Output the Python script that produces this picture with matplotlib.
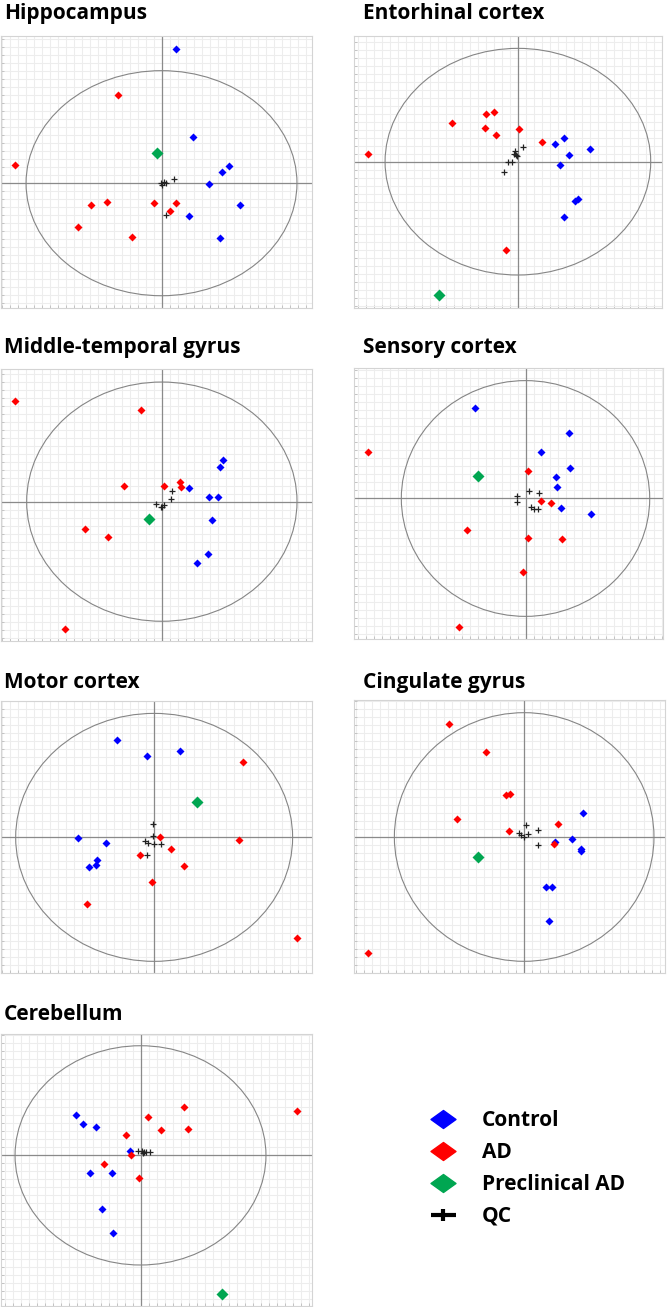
import matplotlib
matplotlib.use("Agg")
import matplotlib.pyplot as plt
from matplotlib.patches import Ellipse
from matplotlib.path import Path
from matplotlib.lines import Line2D
import numpy as np

# scores, scaled so that the Hotelling ellipse has radius 1 on both axes
hippo_control = [(0.106, 1.192), (0.234, 0.414), (0.498, 0.154), (0.443, 0.101),
                 (0.350, -0.003), (0.579, -0.195), (0.202, -0.290), (0.429, -0.485)]
hippo_ad = [(-0.323, 0.781), (-1.079, 0.166), (-0.406, -0.163), (-0.520, -0.192),
            (-0.057, -0.172), (0.108, -0.180), (0.059, -0.249), (-0.613, -0.385),
            (-0.219, -0.482)]
hippo_pre = [(-0.032, 0.266)]
hippo_qc = [(-0.005, 0.006), (0.015, 0.015), (0.030, 0.006), (0.089, 0.041),
            (0.005, -0.018), (0.034, -0.284)]

ento_control = [(0.344, 0.213), (0.281, 0.154), (0.384, 0.063), (0.545, 0.110),
                (0.314, -0.025), (0.427, -0.344), (0.450, -0.333), (0.347, -0.492)]
ento_ad = [(-1.126, 0.072), (-0.495, 0.342), (-0.241, 0.424), (-0.178, 0.439),
           (-0.246, 0.298), (-0.168, 0.233), (0.008, 0.292), (0.181, 0.178),
           (-0.088, -0.780)]
ento_pre = [(-0.593, -1.176)]
ento_qc = [(-0.020, 0.090), (0.038, 0.128), (-0.030, 0.069), (-0.008, 0.046),
           (-0.045, -0.001), (-0.073, -0.001), (-0.103, -0.090), (-0.015, 0.057)]

mtg_control = [(0.454, 0.352), (0.430, 0.288), (0.200, 0.112), (0.346, 0.036),
               (0.417, 0.036), (0.368, -0.156), (0.338, -0.441), (0.257, -0.514)]
mtg_ad = [(-1.084, 0.844), (-0.151, 0.768), (-0.277, 0.128), (0.015, 0.131),
          (0.136, 0.168), (0.143, 0.120), (-0.568, -0.229), (-0.400, -0.293),
          (-0.714, -1.061)]
mtg_pre = [(-0.096, -0.148)]
mtg_qc = [(0.072, 0.087), (0.067, 0.020), (-0.042, -0.017), (0.017, -0.025),
          (0.002, -0.042), (-0.007, -0.047)]

sens_control = [(-0.405, 0.768), (0.349, 0.556), (0.121, 0.397), (0.359, 0.262),
                (0.247, 0.180), (0.257, 0.098), (0.287, -0.083), (0.528, -0.132)]
sens_ad = [(-1.265, 0.397), (0.016, 0.233), (0.126, -0.024), (0.209, -0.035),
           (-0.475, -0.264), (0.024, -0.338), (0.290, -0.341), (-0.021, -0.621),
           (-0.534, -1.093)]
sens_pre = [(-0.381, 0.188)]
sens_qc = [(-0.070, 0.024), (-0.070, -0.027), (0.029, 0.066), (0.110, 0.050),
           (0.046, -0.075), (0.072, -0.089), (0.097, -0.089)]

motor_control = [(-0.270, 0.785), (-0.055, 0.655), (0.190, 0.699), (-0.547, -0.004),
                 (-0.349, -0.042), (-0.414, -0.179), (-0.419, -0.222), (-0.470, -0.241)]
motor_ad = [(0.639, 0.610), (0.039, 0.007), (0.610, -0.023), (0.123, -0.093),
            (-0.099, -0.144), (0.214, -0.227), (-0.012, -0.359), (-0.484, -0.534),
            (1.029, -0.812)]
motor_pre = [(0.306, 0.289)]
motor_qc = [(-0.007, 0.104), (-0.007, 0.015), (-0.063, -0.028), (-0.041, -0.042),
            (0.002, -0.055), (0.053, -0.052), (-0.051, -0.139)]

cing_control = [(0.453, 0.197), (0.371, -0.020), (0.240, -0.039), (0.438, -0.100),
                (0.440, -0.111), (0.171, -0.405), (0.217, -0.405), (0.194, -0.673)]
cing_ad = [(-0.576, 0.912), (-0.291, 0.681), (-0.140, 0.341), (-0.109, 0.344),
           (-0.520, 0.143), (0.261, 0.103), (-0.119, 0.052), (0.230, -0.060),
           (-1.200, -0.933)]
cing_pre = [(-0.358, -0.157)]
cing_qc = [(0.014, 0.095), (0.109, 0.055), (0.027, 0.028), (-0.042, 0.033),
           (-0.027, 0.017), (-0.004, -0.004), (0.109, -0.063)]

cereb_control = [(-0.511, 0.364), (-0.460, 0.284), (-0.351, 0.263), (-0.080, 0.041),
                 (-0.402, -0.157), (-0.226, -0.157), (-0.306, -0.485), (-0.221, -0.705)]
cereb_ad = [(0.346, 0.437), (1.245, 0.409), (0.061, 0.346), (0.165, 0.233),
            (0.380, 0.236), (-0.117, 0.187), (-0.072, 0.002), (-0.290, -0.075),
            (-0.013, -0.202)]
cereb_pre = [(0.646, -1.265)]
cereb_qc = [(-0.019, 0.038), (0.008, 0.044), (0.024, 0.029), (0.043, 0.035),
            (0.072, 0.032), (0.019, 0.020)]

regions = ["Hippocampus", "Entorhinal cortex", "Middle-temporal gyrus", "Sensory cortex",
           "Motor cortex", "Cingulate gyrus", "Cerebellum"]
groups = ["Control", "AD", "Preclinical AD", "QC"]
region_data = [
    (hippo_control, hippo_ad, hippo_pre, hippo_qc),
    (ento_control, ento_ad, ento_pre, ento_qc),
    (mtg_control, mtg_ad, mtg_pre, mtg_qc),
    (sens_control, sens_ad, sens_pre, sens_qc),
    (motor_control, motor_ad, motor_pre, motor_qc),
    (cing_control, cing_ad, cing_pre, cing_qc),
    (cereb_control, cereb_ad, cereb_pre, cereb_qc),
]

# layout (pixel boxes: left, top, right, bottom) and visible ranges
W, H = 669, 1307
boxes = [(1, 36, 312, 308), (354, 36, 662, 308),
         (1, 369, 312, 641), (354, 368, 663, 639),
         (1, 701, 312, 973), (354, 700, 665, 973),
         (1, 1034, 312, 1306)]
limits = [((-1.185, 1.111), (-1.109, 1.308)),
          ((-1.234, 1.085), (-1.291, 1.109)),
          ((-1.190, 1.111), (-1.165, 1.109)),
          ((-1.381, 1.107), (-1.192, 1.107)),
          ((-1.106, 1.140), (-1.094, 1.100)),
          ((-1.311, 1.085), (-1.094, 1.102)),
          ((-1.112, 1.367), (-1.374, 1.107))]
title_pos = [(4, 19), (363, 19), (4, 353), (363, 353), (4, 688), (363, 688), (4, 1020)]

colors = ["#0000ff", "#ff0000", "#00a651", "#222222"]
font = ["Open Sans", "DejaVu Sans"]

# wide diamond and flat plus for the legend
wide_diamond = Path([(-1, 0), (0, 0.72), (1, 0), (0, -0.72), (-1, 0)],
                    [Path.MOVETO, Path.LINETO, Path.LINETO, Path.LINETO, Path.CLOSEPOLY])
flat_plus = Path([(-1, 0), (1, 0), (0, -0.5), (0, 0.5)],
                 [Path.MOVETO, Path.LINETO, Path.MOVETO, Path.LINETO])

fig = plt.figure(figsize=(W / 100, H / 100), dpi=100)

for name, data, box, (xl, yl), tp in zip(regions, region_data, boxes, limits, title_pos):
    l, t, r, b = box
    ax = fig.add_axes([l / W, 1 - b / H, (r - l) / W, (b - t) / H])
    ax.set_xlim(xl)
    ax.set_ylim(yl)

    # fine background grid, ~8 px cells
    step_x = (xl[1] - xl[0]) * 8 / (r - l)
    step_y = (yl[1] - yl[0]) * 8 / (b - t)
    ax.set_xticks(np.concatenate([-np.arange(0, -xl[0], step_x)[::-1], np.arange(step_x, xl[1], step_x)]))
    ax.set_yticks(np.concatenate([-np.arange(0, -yl[0], step_y)[::-1], np.arange(step_y, yl[1], step_y)]))
    ax.grid(True, color="#ededed", lw=0.8)
    ax.set_axisbelow(True)
    ax.tick_params(length=2, width=0.6, color="#bdbdbd", labelleft=False, labelbottom=False,
                   direction="in")
    for sp in ax.spines.values():
        sp.set_color("#d4d4d4")
        sp.set_linewidth(0.8)

    ax.axhline(0, color="#8a8a8a", lw=0.9, zorder=1)
    ax.axvline(0, color="#8a8a8a", lw=0.9, zorder=1)
    ax.add_patch(Ellipse((0, 0), 2, 2, fill=False, ec="#858585", lw=0.8, zorder=1))

    ctrl, ad, pre, qc = data
    for pts, c in [(ctrl, colors[0]), (ad, colors[1])]:
        x, y = zip(*pts)
        ax.plot(x, y, "D", color=c, ms=4.4, mec="none", ls="none", zorder=3)
    x, y = zip(*pre)
    ax.plot(x, y, "D", color=colors[2], ms=6.2, mec="none", ls="none", zorder=3)
    x, y = zip(*qc)
    ax.plot(x, y, "+", color=colors[3], ms=4, mew=0.9, ls="none", zorder=4)

    fig.text(tp[0] / W, 1 - tp[1] / H, name, fontsize=15, fontweight="bold",
             family=font, va="baseline", ha="left")

handles = [Line2D([], [], marker=wide_diamond, color=colors[0], ms=18, ls="none"),
           Line2D([], [], marker=wide_diamond, color=colors[1], ms=18, ls="none"),
           Line2D([], [], marker=wide_diamond, color=colors[2], ms=18, ls="none"),
           Line2D([], [], marker=flat_plus, color="black", ms=18, mew=3, ls="none")]
leg = fig.legend(handles, groups, loc="upper left", bbox_to_anchor=(419 / W, 1 - 1100 / H),
                 frameon=False, prop={"family": font, "weight": "bold", "size": 15},
                 handlelength=1.35, handletextpad=1.15, labelspacing=0.52, borderpad=0)

fig.savefig("out.png", dpi=100)
